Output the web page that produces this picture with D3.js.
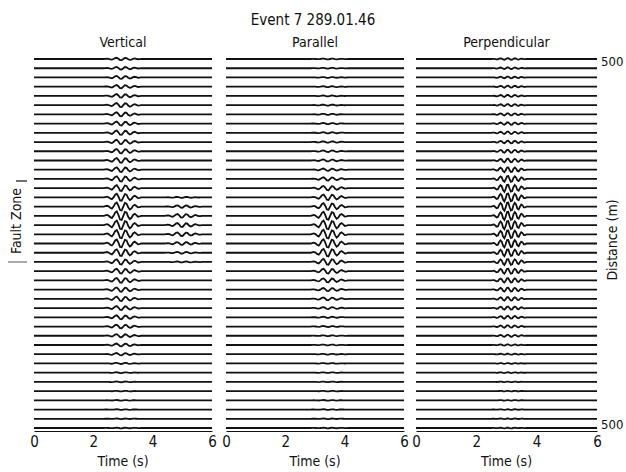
<!DOCTYPE html>
<html>
<head>
<meta charset="utf-8">
<script src="https://cdn.jsdelivr.net/npm/d3@7"></script>
<style>
  body { margin: 0; background: #fff; }
  text { font-family: "DejaVu Sans Condensed", "DejaVu Sans", sans-serif; font-stretch: condensed; fill: #111; }
</style>
</head>
<body>
<script>
var width = 626, height = 472;

// components shown as panels
var panels = ["Vertical", "Parallel", "Perpendicular"];
var timeTicks = [0, 2, 4, 6];
var distTicks = [500, -500];

// peak amplitude (px) of main arrival on each of the 41 traces, top to bottom
var ampVertical = [1.2, 1.3, 1.5, 1.6, 1.8, 2, 2, 2, 2.2, 2.2, 2.2, 2.4, 2.4, 2.6, 3, 3.6, 4, 4.4, 4.4, 4.2, 4, 3.4, 2.6, 2.4, 2.4, 2.2, 2.2, 2, 2, 1.8, 1.6, 1.4, 1.2, 0.6, 0.4, 0.4, 0.3, 0.3, 0.3, 0.3, 0.3];
var ampParallel = [0.4, 0.4, 0.4, 0.5, 0.5, 0.5, 0.5, 0.6, 0.6, 0.7, 0.8, 1, 1.2, 1.6, 2.2, 2.8, 3.4, 4, 4.4, 4.4, 4.2, 3.8, 3, 2.4, 2, 1.6, 1.4, 1, 0.6, 0.5, 0.4, 0.4, 0.4, 0.3, 0.3, 0.3, 0.3, 0.3, 0.3, 0.3, 0.3];
var ampPerpendicular = [0.8, 0.8, 0.9, 1, 1, 1, 1.1, 1.2, 1.2, 1.3, 1.5, 1.8, 2.4, 3, 3.6, 4, 4.2, 4.2, 4.2, 4, 3.8, 3.4, 3, 2.6, 2.2, 2, 1.8, 1.6, 1.4, 1.2, 1, 0.6, 0.5, 0.4, 0.4, 0.3, 0.3, 0.3, 0.3, 0.3, 0.3];
// late arrival seen on vertical traces inside the fault zone
var ampVerticalLate = [0, 0, 0, 0, 0, 0, 0, 0, 0, 0, 0, 0, 0, 0, 0, 0.5, 1.2, 1.8, 2, 1.8, 1.4, 0.9, 0.5, 0, 0, 0, 0, 0, 0, 0, 0, 0, 0, 0, 0, 0, 0, 0, 0, 0, 0];

// arrival onset times (s) and sample spacing for each panel
var onsets = [2.35, 2.85, 2.5];
var sampleDt = [0.055, 0.055, 0.043];
var lateOnset = 4.4;

// wavelet samples
var wavelet = [0, 0.1, 0.2, 0.05, -0.3, -0.5, 0, 0.75, 1, 0.25, -0.85, -0.95, 0, 0.9, 0.75, -0.2, -0.75, -0.45, 0.2, 0.45, 0.15, -0.2, -0.15, 0];
var waveletLong = [0, 0.1, 0.15, -0.1, -0.4, -0.3, 0.4, 0.85, 0.5, -0.6, -1, -0.2, 0.9, 0.95, -0.1, -0.95, -0.8, 0.35, 0.9, 0.5, -0.5, -0.7, 0, 0.5, 0.3, -0.2, -0.2, 0];

var panelX = [[34, 212], [226, 404], [416, 597]];
var top0 = 59, bottom0 = 428;

var amps = [ampVertical, ampParallel, ampPerpendicular];
var shapes = [wavelet, wavelet, waveletLong];

var svg = d3.select("body").append("svg")
    .attr("width", width)
    .attr("height", height);

var y = d3.scaleLinear()
    .domain([0, ampVertical.length - 1])
    .range([top0, bottom0]);

svg.append("text")
    .attr("x", 313).attr("y", 25)
    .attr("text-anchor", "middle")
    .attr("font-size", "15px")
    .text("Event 7 289.01.46");

panels.forEach((name, p) => {
    var x = d3.scaleLinear().domain([0, 6]).range(panelX[p]);

    svg.append("text")
        .attr("x", (panelX[p][0] + panelX[p][1]) / 2)
        .attr("y", 47)
        .attr("text-anchor", "middle")
        .attr("font-size", "14px")
        .text(name);

    var line = d3.line().x((d) => x(d[0])).y((d) => d[1]);

    amps[p].forEach((a, i) => {
        var y0 = y(i);
        var pts = [[0, y0]];
        shapes[p].forEach((v, k) => {
            pts.push([onsets[p] + k * sampleDt[p], y0 - a * v]);
        });
        if (p == 0 && ampVerticalLate[i] > 0) {
            wavelet.forEach((v, k) => {
                pts.push([lateOnset + k * sampleDt[p], y0 - ampVerticalLate[i] * v]);
            });
        }
        pts.push([6, y0]);
        svg.append("path")
            .attr("d", line(pts))
            .attr("fill", "none")
            .attr("stroke", "#111")
            .attr("stroke-width", 1.8);
    });

    // bottom axis
    var axis = svg.append("g")
        .attr("transform", `translate(0, ${bottom0 + 3})`)
        .call(d3.axisBottom(x).tickValues(timeTicks).tickSize(0).tickPadding(5).tickFormat(d3.format("d")));
    axis.select(".domain").attr("stroke", "#111").attr("stroke-width", 1);
    axis.selectAll("text").attr("font-size", "15px").attr("fill", "#111");

    svg.append("text")
        .attr("x", x(3)).attr("y", 466)
        .attr("text-anchor", "middle")
        .attr("font-size", "14px")
        .text("Time (s)");
});

// right distance axis
var yd = d3.scaleLinear().domain([500, -500]).range([top0 + 3, bottom0 - 3]);
svg.selectAll(".dist")
    .data(distTicks)
    .enter()
    .append("text")
    .attr("x", 601)
    .attr("y", (d) => yd(d) + 4)
    .attr("font-size", "13px")
    .text((d) => Math.abs(d));

svg.append("text")
    .attr("transform", "translate(617, 240) rotate(-90)")
    .attr("text-anchor", "middle")
    .attr("font-size", "14px")
    .text("Distance  (m)");

// fault zone label on the left
svg.append("text")
    .attr("transform", "translate(21, 221) rotate(-90)")
    .attr("text-anchor", "middle")
    .attr("font-size", "14px")
    .text("Fault  Zone");
svg.append("line")
    .attr("x1", 16).attr("x2", 27).attr("y1", 181).attr("y2", 181)
    .attr("stroke", "#111").attr("stroke-width", 1.2);
svg.append("line")
    .attr("x1", 8).attr("x2", 27).attr("y1", 262).attr("y2", 262)
    .attr("stroke", "#555").attr("stroke-width", 1);
</script>
</body>
</html>
